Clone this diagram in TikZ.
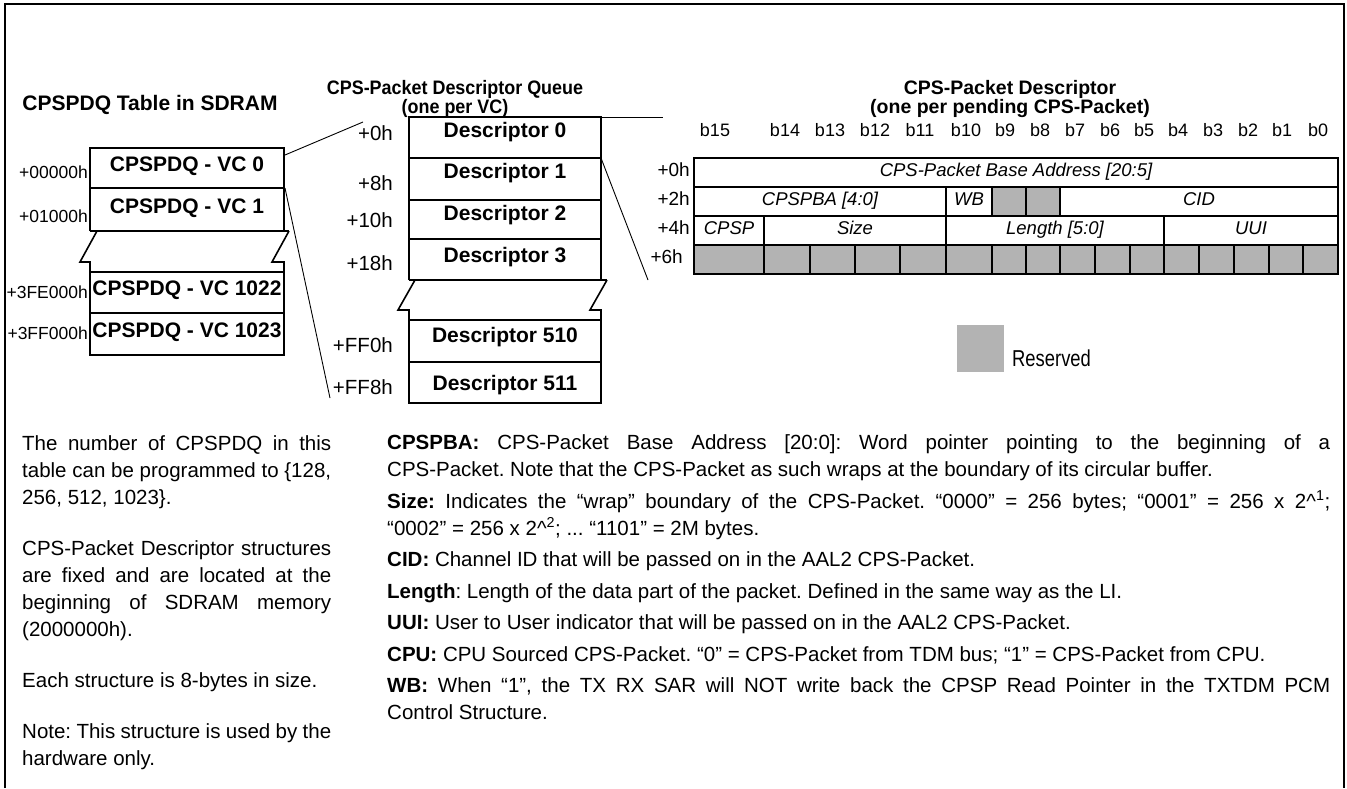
\documentclass[tikz,border=0pt]{standalone}
\usepackage{fontspec}
\setmainfont{Liberation Sans}
\newfontfamily\narrowsans[FakeStretch=0.8]{Liberation Sans}
\newfontfamily\narrowbold[FakeStretch=0.92]{Liberation Sans}
\usepackage{xcolor}
\usepackage{tikz}
\usetikzlibrary{positioning}
\definecolor{resgray}{RGB}{179,179,179}

\tikzset{
  frame/.style={line width=1.6pt},
  cellbox/.style={line width=1.6pt},
  thinline/.style={line width=0.9pt},
  celltxt/.style={font=\fontsize{21}{24}\selectfont\bfseries, inner sep=0pt},
  titletxt/.style={font=\fontsize{19.5}{19.5}\selectfont\bfseries, align=center, inner sep=0pt},
  offs/.style={font=\fontsize{17.5}{20}\selectfont, anchor=east, inner sep=0pt},
  qoffs/.style={font=\fontsize{20.5}{22}\selectfont, anchor=east, inner sep=0pt},
  roffs/.style={font=\fontsize{19}{21}\selectfont, anchor=east, inner sep=0pt},
  bittxt/.style={font=\fontsize{18}{20}\selectfont, inner sep=0pt},
  fieldtxt/.style={font=\fontsize{18.5}{20}\selectfont\itshape, inner sep=0pt, anchor=base},
  notetxt/.style={anchor=north west, inner sep=0pt},
}

\newcommand{\notesetup}[1]{\fontsize{20.5}{27}\selectfont\frenchspacing\setlength{\parindent}{0pt}%
  \setlength{\parskip}{#1}\tolerance=10000\hbadness=10000\hyphenpenalty=10000\exhyphenpenalty=10000}

\begin{document}
\begin{tikzpicture}[x=1pt, y=-1pt]
    \useasboundingbox (0,0) rectangle (1347,788);
    % outer frame (open at the bottom)
    \draw[frame] (5,788) -- (5,4) -- (1344,4) -- (1344,788);

    % titles
    \node[titletxt, font=\fontsize{21}{22}\selectfont\bfseries] (ttable) at (150,105) {CPSPDQ Table in SDRAM};
    \node[titletxt, font=\narrowbold\fontsize{19.5}{19}\selectfont\bfseries] (tqueue) at (455,99) {CPS-Packet Descriptor Queue\\(one per VC)};
    \node[titletxt] (tdesc) at (1010,99) {CPS-Packet Descriptor\\(one per pending CPS-Packet)};

    % CPSPDQ table
    \draw[cellbox] (90,231) -- (90,148) -- (284,148) -- (284,231);
    \draw[cellbox] (90,188) -- (284,188);
    \draw[cellbox] (90,231) -- (289,231);
    \draw[cellbox] (97,231) -- (80,262) -- (90,262) -- (90,355) -- (284,355) -- (284,262) -- (272,262) -- (289,231);
    \draw[cellbox] (90,272) -- (284,272);
    \draw[cellbox] (90,313) -- (284,313);
    \foreach \y/\n in {166/0, 208/1, 290/1022, 332/1023}
        \node[celltxt] (vc\n) at (187,\y) {CPSPDQ - VC \n};
    \foreach \y/\t [count=\i] in {172/+00000h, 216/+01000h, 292/+3FE000h, 333/+3FF000h}
        \node[offs] (toff\i) at (88,\y) {\t};

    % descriptor queue
    \draw[cellbox] (409,280) -- (409,117) -- (601,117) -- (601,280);
    \foreach \y in {158,200,239}
        \draw[cellbox] (409,\y) -- (601,\y);
    \draw[cellbox] (409,280) -- (607,280);
    \draw[cellbox] (415,280) -- (398,310) -- (409,310) -- (409,403) -- (601,403) -- (601,310) -- (590,310) -- (607,280);
    \draw[cellbox] (409,320) -- (601,320);
    \draw[cellbox] (409,362) -- (601,362);
    \foreach \y/\n in {132/0, 173/1, 215/2, 257/3, 337/510, 385/511}
        \node[celltxt] (desc\n) at (505,\y) {Descriptor \n};
    \foreach \y/\t [count=\i] in {133/+0h, 183/+8h, 220/+10h, 263/+18h, 345/+FF0h, 387/+FF8h}
        \node[qoffs] (qoff\i) at (393,\y) {\t};

    % connectors between the three parts
    \coordinate (vc0end) at (285,155);
    \coordinate (q0end) at (363,122);
    \coordinate (vc1end) at (285,188);
    \coordinate (q511end) at (330,398);
    \coordinate (d0top) at (601,117);
    \coordinate (d0end) at (663,117);
    \coordinate (d1top) at (601,158);
    \coordinate (d1end) at (648,280);
    \draw[thinline] (vc0end) -- (q0end);
    \draw[thinline] (vc1end) -- (q511end);
    \draw[thinline] (d0top) -- (d0end);
    \draw[thinline] (d1top) -- (d1end);

    % CPS-Packet descriptor words
    \fill[resgray] (992,187) rectangle (1060,216);
    \fill[resgray] (694,245) rectangle (1338,274);
    \draw[cellbox] (694,158) rectangle (1338,274);
    \foreach \y in {187,216,245}
        \draw[cellbox] (694,\y) -- (1338,\y);
    \foreach \x in {946,992,1026,1060}
        \draw[cellbox] (\x,187) -- (\x,216);
    \foreach \x in {764,946,1164}
        \draw[cellbox] (\x,216) -- (\x,245);
    \foreach \x in {764,810,855,900,946,992,1026,1060,1095,1130,1164,1199,1234,1269,1303}
        \draw[cellbox] (\x,245) -- (\x,274);
    \foreach \x/\b in {715/15, 785/14, 830/13, 875/12, 920/11, 966/10, 1005/9, 1040/8,
                       1075/7, 1110/6, 1144/5, 1178/4, 1213/3, 1248/2, 1282/1, 1318/0}
        \node[bittxt] (bit\b) at (\x,130) {b\b};
    \foreach \y/\t [count=\i] in {170/+0h, 199/+2h, 228/+4h}
        \node[roffs] (roff\i) at (690,\y) {\t};
    \node[roffs] (roff4) at (683,257) {+6h};
    \node[fieldtxt] (fbase) at (1016,176) {CPS-Packet Base Address [20:5]};
    \node[fieldtxt] (fpba) at (820,205) {CPSPBA [4:0]};
    \node[fieldtxt] (fwb) at (969,205) {WB};
    \node[fieldtxt] (fcid) at (1199,205) {CID};
    \node[fieldtxt] (fcpsp) at (729,234) {CPSP};
    \node[fieldtxt] (fsize) at (855,234) {Size};
    \node[fieldtxt] (flen) at (1055,234) {Length [5:0]};
    \node[fieldtxt] (fuui) at (1251,234) {UUI};

    % legend
    \fill[resgray] (957,325) rectangle (1004,372);
    \node[font=\narrowsans\fontsize{23}{26}\selectfont, anchor=base west, inner sep=0pt] (reserved) at (1012,366) {Reserved};

    % notes
    \node[notetxt] (leftnote) at (22,435.5) {\begin{minipage}[t]{309pt}\notesetup{24pt}%
        The number of CPSPDQ in this\linebreak table can be programmed to \{128,\linebreak 256, 512, 1023\}.\par
        CPS-Packet Descriptor structures\linebreak are fixed and are located at the\linebreak beginning of SDRAM memory\linebreak (2000000h).\par
        Each structure is 8-bytes in size.\par
        Note: This structure is used by the\linebreak hardware only.
    \end{minipage}};
    \node[notetxt] (rightnote) at (387,434.5) {\begin{minipage}[t]{943pt}\notesetup{4.5pt}%
        \textbf{CPSPBA:} CPS-Packet Base Address [20:0]: Word pointer pointing to the beginning of a\linebreak CPS-Packet. Note that the CPS-Packet as such wraps at the boundary of its circular buffer.\par
        \textbf{Size:} Indicates the “wrap” boundary of the CPS-Packet. “0000” = 256 bytes; “0001” = 256 x 2\textasciicircum\textsuperscript{1};\linebreak “0002” = 256 x 2\textasciicircum\textsuperscript{2}; ... “1101” = 2M bytes.\par
        \textbf{CID:} Channel ID that will be passed on in the AAL2 CPS-Packet.\par
        \textbf{Length}: Length of the data part of the packet. Defined in the same way as the LI.\par
        \textbf{UUI:} User to User indicator that will be passed on in the AAL2 CPS-Packet.\par
        \textbf{CPU:} CPU Sourced CPS-Packet. “0” = CPS-Packet from TDM bus; “1” = CPS-Packet from CPU.\par
        \textbf{WB:} When “1”, the TX RX SAR will NOT write back the CPSP Read Pointer in the TXTDM PCM\linebreak Control Structure.
    \end{minipage}};
\end{tikzpicture}
\end{document}
